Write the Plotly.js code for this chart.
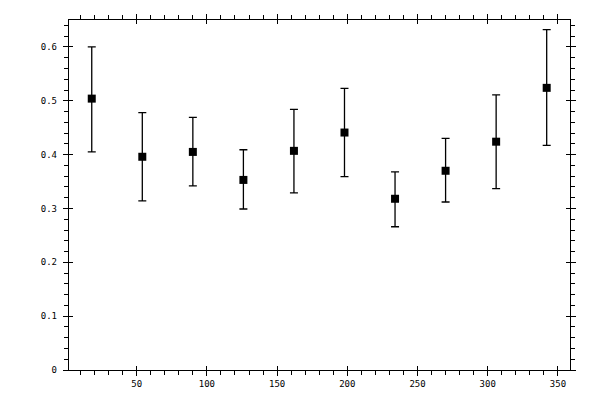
<!DOCTYPE html>
<html>
<head>
<meta charset="utf-8">
<script src="https://cdn.plot.ly/plotly-3.0.1.min.js"></script>
<style>
  html, body { margin: 0; padding: 0; background: #fff; }
  #chart { width: 600px; height: 400px; }
</style>
</head>
<body>
<div id="chart"></div>
<script>
var xs = [18, 54, 90, 126, 162, 198, 234, 270, 306, 342];
var ys = [0.504, 0.396, 0.405, 0.353, 0.407, 0.441, 0.318, 0.370, 0.424, 0.524];
var yHigh = [0.600, 0.478, 0.469, 0.409, 0.484, 0.523, 0.368, 0.430, 0.511, 0.632];
var yLow = [0.405, 0.314, 0.342, 0.299, 0.329, 0.359, 0.266, 0.312, 0.337, 0.417];

var errPlus = [], errMinus = [];
for (var i = 0; i < xs.length; i++) {
	errPlus.push(yHigh[i] - ys[i]);
	errMinus.push(ys[i] - yLow[i]);
}

var xRange = [1.8, 358.6];
var yRange = [0, 0.65];
var tickFont = {family: "DejaVu Sans Mono", size: 9, color: "#000"};

var points = {
	x: xs,
	y: ys,
	type: "scatter",
	mode: "markers",
	marker: {symbol: "square", size: 8, color: "#000"},
	error_y: {
		type: "data",
		symmetric: false,
		array: errPlus,
		arrayminus: errMinus,
		color: "#000",
		thickness: 1.3,
		width: 4
	},
	hoverinfo: "none",
	showlegend: false
};

var layout = {
	width: 600,
	height: 400,
	margin: {l: 69, r: 30, t: 20, b: 30},
	paper_bgcolor: "#fff",
	plot_bgcolor: "#fff",
	showlegend: false,
	xaxis: {
		range: xRange,
		showgrid: false,
		zeroline: false,
		showline: true,
		linecolor: "#000",
		linewidth: 1.2,
		mirror: "allticks",
		ticks: "outside",
		ticklen: 5,
		tickwidth: 1,
		tickcolor: "#000",
		tick0: 0,
		dtick: 50,
		tickfont: tickFont,
		minor: {ticks: "outside", ticklen: 4, dtick: 10, tick0: 0, tickcolor: "#000", showgrid: false}
	},
	yaxis: {
		range: yRange,
		showgrid: false,
		zeroline: false,
		showline: true,
		linecolor: "#000",
		linewidth: 1.2,
		mirror: "allticks",
		ticks: "outside",
		ticklen: 5,
		tickwidth: 1,
		tickcolor: "#000",
		tick0: 0,
		dtick: 0.1,
		ticklabelstandoff: 4,
		tickfont: tickFont,
		minor: {ticks: "outside", ticklen: 4, dtick: 0.02, tick0: 0, tickcolor: "#000", showgrid: false}
	},
	// second pair of axes only to draw the inner half of the major ticks
	xaxis2: {
		overlaying: "x",
		range: xRange,
		showgrid: false,
		zeroline: false,
		showline: false,
		showticklabels: false,
		mirror: "ticks",
		ticks: "inside",
		ticklen: 4,
		tickwidth: 1,
		tickcolor: "#000",
		tick0: 0,
		dtick: 50
	},
	yaxis2: {
		overlaying: "y",
		range: yRange,
		showgrid: false,
		zeroline: false,
		showline: false,
		showticklabels: false,
		mirror: "ticks",
		ticks: "inside",
		ticklen: 4,
		tickwidth: 1,
		tickcolor: "#000",
		tick0: 0,
		dtick: 0.1
	}
};

var ghost = {
	x: xs,
	y: ys,
	xaxis: "x2",
	yaxis: "y2",
	type: "scatter",
	mode: "markers",
	marker: {opacity: 0},
	hoverinfo: "none",
	showlegend: false
};

Plotly.newPlot("chart", [ghost, points], layout, {staticPlot: true});
</script>
</body>
</html>
